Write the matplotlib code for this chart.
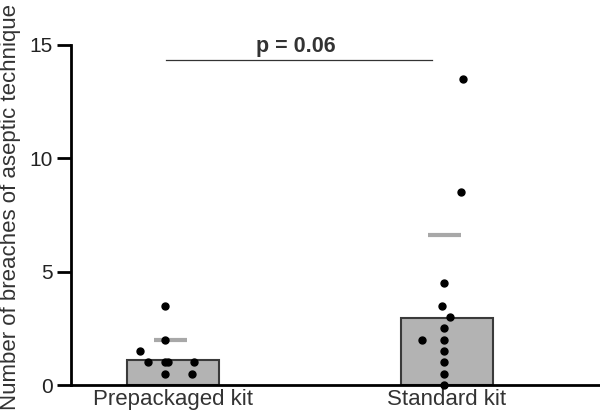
import numpy as np
import matplotlib.pyplot as plt

plt.rcParams['font.family'] = ['Liberation Sans', 'DejaVu Sans']

groups = ['Prepackaged kit', 'Standard kit']
bar_heights = [1.1, 2.95]
line_values = [2.0, 6.6]

# individual observations per group
pre_values = [3.5, 2.0, 1.5, 1.0, 1.0, 1.0, 1.0, 0.5, 0.5]
std_values = [13.5, 8.5, 4.5, 3.5, 3.0, 2.5, 2.0, 2.0, 1.5, 1.0, 0.5, 0.0]
# horizontal jitter
pre_jitter = [-0.03, -0.03, -0.12, -0.09, -0.03, -0.018, 0.077, -0.03, 0.07]
std_jitter = [0.058, 0.051, -0.011, -0.018, 0.011, -0.011, -0.091, -0.011, -0.011, -0.011, -0.011, -0.011]

p_text = 'p = 0.06'

fig = plt.figure(figsize=(6, 4.16), dpi=100)
ax = fig.add_axes([0.118, 0.0745, 0.882, 0.8175])

x = np.arange(len(groups))
ax.bar(x, bar_heights, width=0.336, color='#b3b3b3', edgecolor='#3a3a3a', linewidth=1.5, zorder=1)

for xi, v in zip(x, line_values):
    ax.plot([xi - 0.07, xi + 0.05], [v, v], color='#a8a8a8', lw=3, solid_capstyle='butt', zorder=2)

for xi, vals, jit in [(0, pre_values, pre_jitter), (1, std_values, std_jitter)]:
    ax.plot(xi + np.array(jit), vals, 'o', color='black', ms=5, zorder=3, clip_on=False)

# significance line
ax.plot([-0.025, 0.945], [14.35, 14.35], color='#333333', lw=0.9)
ax.text(0.45, 14.7, p_text, ha='center', va='baseline', fontsize=15.5, fontweight='bold', color='#333333')

ax.set_xlim(-0.372, 1.558)
ax.set_ylim(0, 15)
ax.set_yticks([0, 5, 10, 15])
ax.set_xticks(x)
ax.set_xticklabels(groups)
ax.tick_params(axis='y', length=10, width=2, labelsize=15, pad=3, labelcolor='#222222')
ax.tick_params(axis='x', length=0, labelsize=16, pad=3, labelcolor='#333333')
ax.set_ylabel('Number of breaches of aseptic technique', fontsize=16, color='#333333')
ax.yaxis.set_label_coords(-0.095, 0.522)

for s in ['top', 'right']:
    ax.spines[s].set_visible(False)
ax.spines['left'].set_linewidth(2)
ax.spines['bottom'].set_linewidth(2)

fig.savefig('out.png', dpi=100)
